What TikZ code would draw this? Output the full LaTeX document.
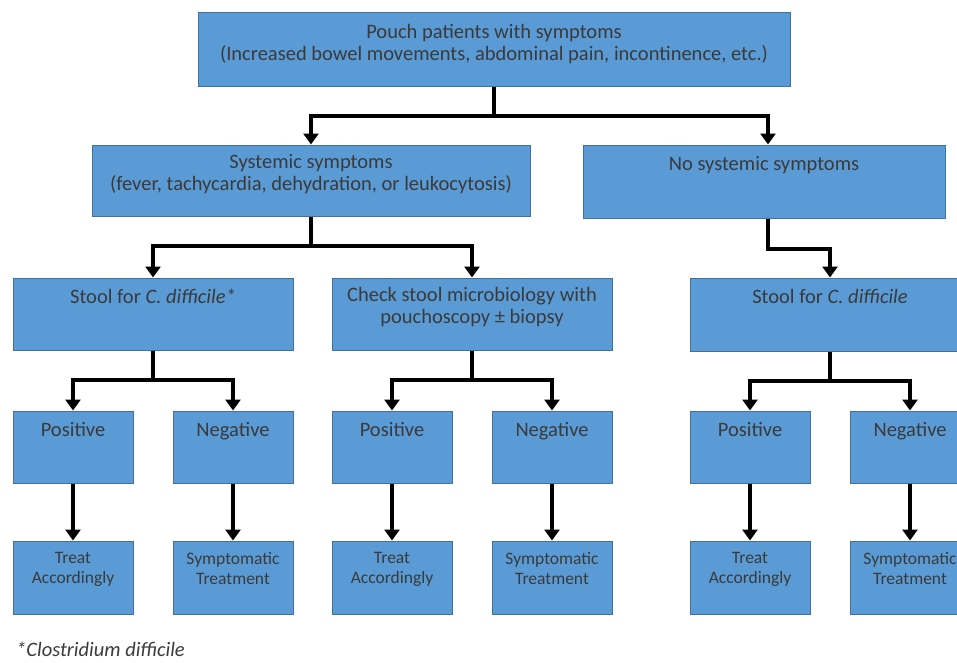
\documentclass[tikz,border=0pt]{standalone}
\usepackage{fontspec}
\setmainfont{Carlito}
\usetikzlibrary{arrows.meta}
\definecolor{boxblue}{HTML}{5B9BD5}
\definecolor{boxline}{HTML}{41719C}
\definecolor{txtgray}{HTML}{3A3A3A}

\begin{document}
\begin{tikzpicture}[x=1pt,y=-1pt,>={Triangle[length=11pt,width=15pt]},
  box/.style={draw=boxline,fill=boxblue,line width=1pt,inner sep=0pt,minimum height=72pt},
  txt/.style={anchor=north,inner sep=0pt,align=center,text=txtgray,
    font=\fontsize{20.5}{22}\selectfont,execute at begin node=\strut},
  small/.style={txt,font=\fontsize{17.5}{20}\selectfont},
  flow/.style={->,line width=4pt}]

\clip (0,0) rectangle (957,662);

% first two levels
\node[box,minimum width=592pt,minimum height=74pt] (top) at (494,49) {};
\node[txt] (topT) at ([yshift=-13pt]top.north)
  {Pouch patients with symptoms\\(Increased bowel movements, abdominal pain, incontinence, etc.)};
\node[box,minimum width=438pt,minimum height=71pt] (sys) at (311,180.5) {};
\node[txt] (sysT) at ([yshift=-10pt]sys.north)
  {Systemic symptoms\\(fever, tachycardia, dehydration, or leukocytosis)};
\node[box,minimum width=362pt,minimum height=73pt] (nosys) at (764,181.5) {};
\node[txt] (nosysT) at ([yshift=-10pt]nosys.north) {No systemic symptoms};

\draw[flow] (top.south) -- ++(0,29) -| (sys.north);
\draw[flow] (top.south) -- ++(0,29) -| ([xshift=4pt]nosys.north);

% tests
\node[box,minimum width=280pt] (stoolL) at (153,314) {};
\node[txt] (stoolLT) at ([yshift=-10pt]stoolL.north) {Stool for \textit{C. difficile*}};
\node[box,minimum width=280pt] (check) at (472,314) {};
\node[txt] (checkT) at ([yshift=-10pt]check.north)
  {Check stool microbiology with\\pouchoscopy ± biopsy};
\node[box,minimum width=280pt,minimum height=73pt] (stoolR) at (830,314.5) {};
\node[txt] (stoolRT) at ([yshift=-10pt]stoolR.north) {Stool for \textit{C. difficile}};

\draw[flow] (sys.south) -- ++(0,29) -| (stoolL.north);
\draw[flow] (sys.south) -- ++(0,29) -| (check.north);
\draw[flow] ([xshift=4pt]nosys.south) -- ++(0,30) -| (stoolR.north);

% results and treatment
\foreach \n/\test/\cx in {1/stoolL/73,2/check/392,3/stoolR/750} {
  \node[box,minimum width=120pt] (pos\n) at (\cx,447) {};
  \node[txt] (pos\n T) at ([yshift=-10pt]pos\n.north) {Positive};
  \node[box,minimum width=120pt] (neg\n) at (\cx+160,447) {};
  \node[txt] (neg\n T) at ([yshift=-10pt]neg\n.north) {Negative};
  \node[box,minimum width=120pt,minimum height=73pt] (trt\n) at (\cx,577.5) {};
  \node[small] (trt\n T) at ([yshift=-12pt]trt\n.north) {Treat\\Accordingly};
  \node[box,minimum width=120pt,minimum height=73pt] (sym\n) at (\cx+160,577.5) {};
  \node[small] (sym\n T) at ([yshift=-12pt]sym\n.north) {Symptomatic\\Treatment};
  \draw[flow] (\test.south) -- ++(0,29) -| (pos\n.north);
  \draw[flow] (\test.south) -- ++(0,29) -| (neg\n.north);
  \draw[flow] (pos\n.south) -- (trt\n.north);
  \draw[flow] (neg\n.south) -- (sym\n.north);
}

\node[anchor=base west,inner sep=0pt,text=txtgray,font=\fontsize{20.5}{22}\selectfont\itshape]
  (note) at (16,656) {*Clostridium difficile};

\end{tikzpicture}
\end{document}
